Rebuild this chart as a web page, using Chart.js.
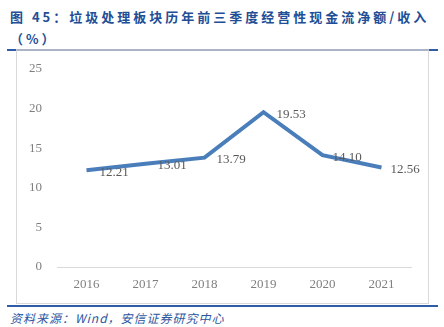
<!DOCTYPE html>
<html>
<head>
<meta charset="utf-8">
<script src="https://cdn.jsdelivr.net/npm/chart.js@4"></script>
<style>
  body { margin: 0; background: #fff; }
  #page { position: relative; width: 444px; height: 327px; overflow: hidden; }
  .title {
    position: absolute; left: 10px; top: 6px; width: 430px;
    font-family: "Noto Sans CJK SC", sans-serif; font-weight: bold;
    font-size: 13px; line-height: 22px; letter-spacing: 3px; color: #214e96;
  }
  .rule-top { position: absolute; left: 7px; top: 49px; width: 431px; height: 2px; background: #2f5ca6; }
  .box {
    position: absolute; left: 16px; top: 49px; width: 411px; height: 252px;
    border: 1px solid #d9d9d9; border-top: 2px solid #aab4c6;
  }
  .rule-bottom { position: absolute; left: 7px; top: 305px; width: 431px; height: 2px; background: #2f5ca6; }
  .source {
    position: absolute; left: 10px; top: 309px;
    font-family: "Noto Sans CJK SC", sans-serif; font-style: italic;
    font-size: 12px; color: #2c56a0; letter-spacing: 1px;
  }
  #wrap { position: absolute; left: 17px; top: 46px; width: 411px; height: 256px; }
</style>
</head>
<body>
<div id="page">
  <div class="title">图 45：垃圾处理板块历年前三季度经营性现金流净额/收入<br>（%）</div>
  <div class="rule-top"></div>
  <div class="box"></div>
  <div id="wrap"><canvas id="chart"></canvas></div>
  <div class="rule-bottom"></div>
  <div class="source">资料来源：Wind，安信证券研究中心</div>
</div>
<script>
const years = ["2016", "2017", "2018", "2019", "2020", "2021"];
const ratio = [12.21, 13.01, 13.79, 19.53, 14.10, 12.56];
const yTicks = [0, 5, 10, 15, 20, 25];

// value labels to the right of each point
const valueLabels = {
  id: "valueLabels",
  afterDatasetsDraw(chart, args, opts) {
    const ctx = chart.ctx;
    const meta = chart.getDatasetMeta(0);
    ctx.save();
    ctx.font = "13px 'Liberation Serif', serif";
    ctx.fillStyle = "#595959";
    ctx.textAlign = "left";
    ctx.textBaseline = "middle";
    meta.data.forEach((pt, i) => {
      const dx = opts.dx[i];
      ctx.fillText(ratio[i].toFixed(2), pt.x + dx, pt.y + 2);
    });
    ctx.restore();
  }
};

new Chart(document.getElementById("chart"), {
  type: "line",
  data: {
    labels: years,
    datasets: [{
      data: ratio,
      borderColor: "#4a7ebb",
      borderWidth: 4,
      pointRadius: 0,
      tension: 0
    }]
  },
  options: {
    responsive: true,
    maintainAspectRatio: false,
    animation: false,
    layout: { padding: { top: 11, right: 17, left: 0, bottom: 0 } },
    plugins: {
      legend: { display: false },
      tooltip: { enabled: false },
      valueLabels: { dx: [13, 12, 12, 13, 10, 9] }
    },
    scales: {
      x: {
        offset: true,
        grid: { display: false, drawTicks: false },
        border: { display: true, color: "#d9d9d9", width: 1 },
        ticks: {
          padding: 10,
          color: "#7f7f7f",
          font: { family: "'Liberation Serif', serif", size: 13 }
        },
        afterFit(scale) { scale.height = 35; }
      },
      y: {
        min: 0,
        max: 25,
        afterBuildTicks(scale) { scale.ticks = yTicks.map(v => ({ value: v })); },
        grid: { display: false, drawTicks: false },
        border: { display: false },
        ticks: {
          padding: 15,
          color: "#7f7f7f",
          font: { family: "'Liberation Serif', serif", size: 13 }
        },
        afterFit(scale) { scale.width = 40; }
      }
    }
  },
  plugins: [valueLabels]
});
</script>
</body>
</html>
